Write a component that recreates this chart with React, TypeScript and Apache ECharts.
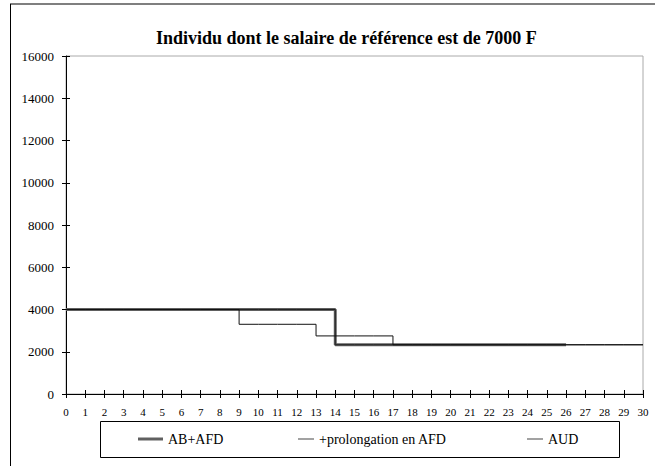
import React, { useEffect, useRef } from "react";
import * as echarts from "echarts";

const months: number[] = Array.from({ length: 31 }, (_, i) => i);
// Value at each month (step drops occur at the month where the value changes)
const abAfd: number[] = [4000, 4000, 4000, 4000, 4000, 4000, 4000, 4000, 4000, 4000, 4000, 4000, 4000, 4000,
  2330, 2330, 2330, 2330, 2330, 2330, 2330, 2330, 2330, 2330, 2330, 2330, 2330];
const prolongation: number[] = [4000, 4000, 4000, 4000, 4000, 4000, 4000, 4000, 4000, 4000, 4000, 4000, 4000, 4000,
  2330, 2330, 2330, 2330, 2330, 2330, 2330, 2330, 2330, 2330, 2330, 2330, 2330, 2330, 2330, 2330, 2330];
const aud: number[] = [4000, 4000, 4000, 4000, 4000, 4000, 4000, 4000, 4000, 3300, 3300, 3300, 3300, 2750,
  2750, 2750, 2750, 2330, 2330, 2330, 2330, 2330, 2330, 2330, 2330, 2330, 2330, 2330, 2330, 2330, 2330];
const seriesNames = ["AB+AFD", "+prolongation en AFD", "AUD"];
const title = "Individu dont le salaire de référence est de 7000 F";

const FONT = "Liberation Serif";

export default function App() {
  const ref = useRef<HTMLDivElement>(null);
  useEffect(() => {
    if (!ref.current) return;
    const chart = echarts.init(ref.current, undefined, { renderer: "svg" });
    const toPairs = (arr: number[]) => arr.map((v, i) => [months[i], v]);
    const xBase = {
      type: "value" as const,
      min: 0,
      max: 30,
      interval: 1,
      splitLine: { show: false },
    };
    const yBase = {
      type: "value" as const,
      min: 0,
      max: 16000,
      interval: 2000,
      splitLine: { show: false },
    };
    const legendText = { fontFamily: FONT, fontSize: 14, color: "#000" };
    chart.setOption({
      animation: false,
      backgroundColor: "#fff",
      textStyle: { fontFamily: FONT },
      title: {
        text: title,
        left: 151,
        top: 24,
        textStyle: { fontFamily: FONT, fontSize: 18, fontWeight: "bold", color: "#000" },
      },
      grid: {
        left: 66,
        right: 12,
        top: 56,
        bottom: 72,
        show: true,
        borderColor: "#aaa",
        borderWidth: 1,
        backgroundColor: "transparent",
      },
      xAxis: [
        {
          ...xBase,
          axisLine: { lineStyle: { color: "#000", width: 1 } },
          axisTick: { show: true, length: 4, lineStyle: { color: "#000" } },
          axisLabel: { fontFamily: FONT, fontSize: 11, color: "#000", margin: 12 },
        },
        {
          ...xBase,
          position: "bottom",
          axisLine: { show: false },
          axisTick: { show: true, inside: true, length: 4, lineStyle: { color: "#000" } },
          axisLabel: { show: false },
        },
      ],
      yAxis: [
        {
          ...yBase,
          axisLine: { show: true, lineStyle: { color: "#000", width: 1 } },
          axisTick: { show: true, length: 4, lineStyle: { color: "#000" } },
          axisLabel: {
            fontFamily: FONT,
            fontSize: 13,
            color: "#000",
            margin: 12,
            formatter: (v: number) => String(v),
          },
        },
        {
          ...yBase,
          position: "left",
          axisLine: { show: false },
          axisTick: { show: true, inside: true, length: 4, lineStyle: { color: "#000" } },
          axisLabel: { show: false },
        },
      ],
      legend: [
        {
          data: [seriesNames[0]],
          left: 138,
          top: 432,
          icon: "rect",
          itemWidth: 25,
          itemHeight: 3,
          itemGap: 0,
          padding: 0,
          textStyle: legendText,
        },
        {
          data: [seriesNames[1]],
          left: 298,
          top: 432,
          icon: "rect",
          itemWidth: 16,
          itemHeight: 1,
          padding: 0,
          textStyle: legendText,
        },
        {
          data: [seriesNames[2]],
          left: 527,
          top: 432,
          icon: "rect",
          itemWidth: 16,
          itemHeight: 1,
          padding: 0,
          textStyle: legendText,
        },
      ],
      graphic: [
        {
          type: "line",
          shape: { x1: 10, y1: 4, x2: 655, y2: 4 },
          style: { stroke: "#7f7f7f", lineWidth: 2 },
          silent: true,
        },
        {
          type: "line",
          shape: { x1: 10.5, y1: 4, x2: 10.5, y2: 466 },
          style: { stroke: "#000", lineWidth: 1 },
          silent: true,
        },
        {
          type: "rect",
          shape: { x: 100.5, y: 421.5, width: 519, height: 36 },
          style: { fill: "none", stroke: "#000", lineWidth: 1 },
          silent: true,
        },
      ],
      series: [
        {
          name: seriesNames[0],
          type: "line",
          step: "end",
          symbol: "none",
          data: toPairs(abAfd),
          lineStyle: { color: "#606060", width: 3 },
          itemStyle: { color: "#606060" },
          z: 2,
        },
        {
          name: seriesNames[1],
          type: "line",
          step: "end",
          symbol: "none",
          data: toPairs(prolongation),
          lineStyle: { color: "#222", width: 1 },
          itemStyle: { color: "#444" },
          z: 3,
        },
        {
          name: seriesNames[2],
          type: "line",
          step: "end",
          symbol: "none",
          data: toPairs(aud),
          lineStyle: { color: "#111", width: 1 },
          itemStyle: { color: "#444" },
          z: 4,
        },
      ],
    });
    return () => chart.dispose();
  }, []);
  return <div ref={ref} style={{ width: 655, height: 466, position: "fixed", left: 0, top: 0 }} />;
}
